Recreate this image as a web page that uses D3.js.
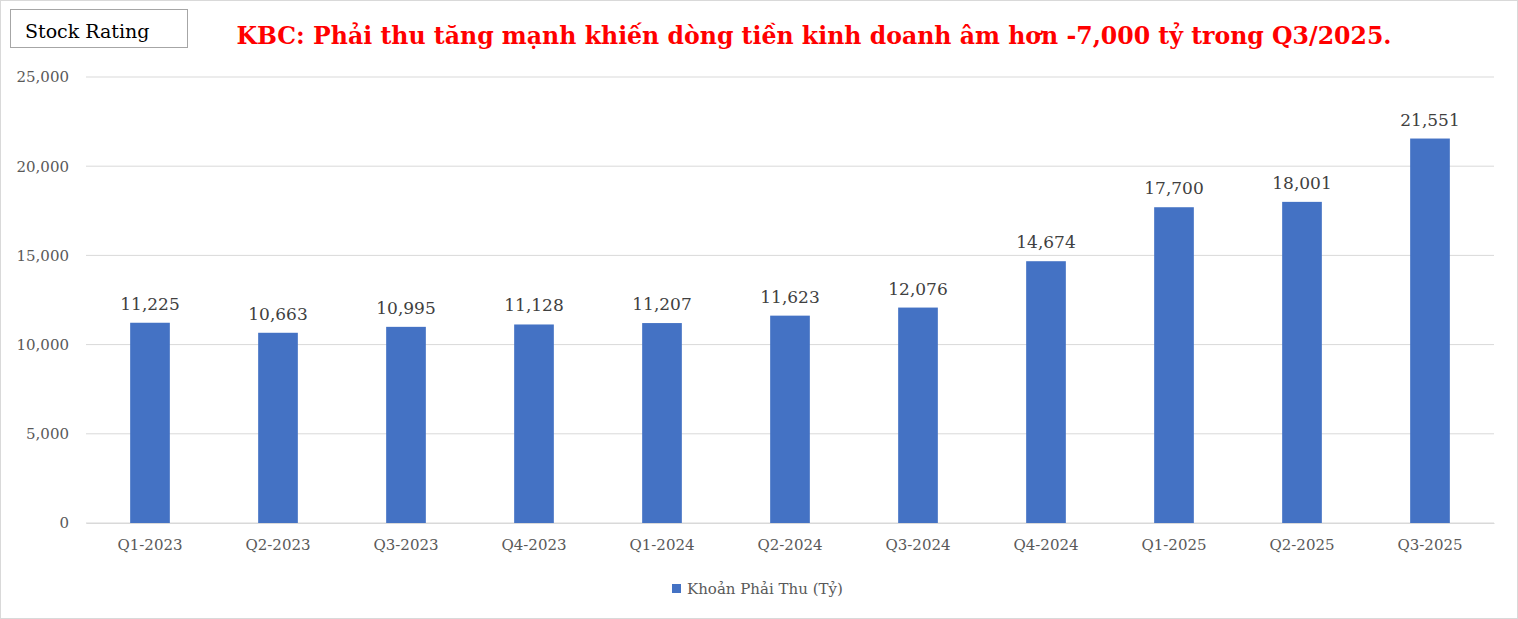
<!DOCTYPE html>
<html><head><meta charset="utf-8">
<script src="https://cdn.jsdelivr.net/npm/d3@7"></script>
<style>body{margin:0;background:#fff}svg{display:block}</style>
</head><body>
<script>
var quarters = ['Q1-2023','Q2-2023','Q3-2023','Q4-2023','Q1-2024','Q2-2024','Q3-2024','Q4-2024','Q1-2025','Q2-2025','Q3-2025'];
var receivables = [11225,10663,10995,11128,11207,11623,12076,14674,17700,18001,21551];
var yTicks = [0,5000,10000,15000,20000,25000];

var width = 1518, height = 619,
    margin = {top: 77, right: 24, bottom: 96, left: 86},
    font = '"DejaVu Serif", "Liberation Serif", serif';

var svg = d3.select('body').append('svg').attr('width', width).attr('height', height);
svg.append('rect').attr('x',0.5).attr('y',0.5).attr('width',width-1).attr('height',height-1)
    .attr('fill','#fff').attr('stroke','#d9d9d9');

var x = d3.scaleBand().domain(quarters).range([margin.left, width - margin.right]).paddingInner(0.69).paddingOuter(0.345);
var y = d3.scaleLinear().domain([0,25000]).range([height - margin.bottom, margin.top]);
var fmt = d3.format(',');

// gridlines
svg.append('g').selectAll('line').data(yTicks).enter().append('line')
    .attr('x1', margin.left).attr('x2', width - margin.right)
    .attr('y1', function(d){ return y(d); }).attr('y2', function(d){ return y(d); })
    .attr('stroke','#d9d9d9').attr('stroke-width',1);

var yAxis = svg.append('g').attr('transform','translate(' + (margin.left - 14) + ',0)')
    .call(d3.axisLeft(y).tickValues(yTicks).tickFormat(fmt).tickSize(0));
yAxis.select('.domain').remove();
yAxis.selectAll('text').attr('fill','#595959').style('font-family',font).style('font-size','15px');

var xAxis = svg.append('g').attr('transform','translate(0,' + (height - margin.bottom) + ')')
    .call(d3.axisBottom(x).tickSize(0).tickPadding(16));
xAxis.select('.domain').attr('stroke','#d9d9d9');
xAxis.selectAll('text').attr('fill','#595959').style('font-family',font).style('font-size','15px');

svg.append('g').selectAll('rect').data(receivables).enter().append('rect')
    .attr('x', function(d,i){ return x(quarters[i]); })
    .attr('y', function(d){ return y(d); })
    .attr('width', x.bandwidth())
    .attr('height', function(d){ return y(0) - y(d); })
    .attr('fill','#4472c4');

svg.append('g').selectAll('text').data(receivables).enter().append('text')
    .attr('x', function(d,i){ return x(quarters[i]) + x.bandwidth()/2; })
    .attr('y', function(d){ return y(d) - 13; })
    .attr('text-anchor','middle').attr('fill','#404040')
    .style('font-family',font).style('font-size','17px')
    .text(function(d){ return fmt(d); });

// legend
svg.append('rect').attr('x',672).attr('y',584).attr('width',9).attr('height',9).attr('fill','#4472c4');
svg.append('text').attr('x',687).attr('y',594).attr('fill','#595959')
    .style('font-family',font).style('font-size','15px').text('Khoản Phải Thu (Tỷ)');

// title box
svg.append('rect').attr('x',10.5).attr('y',9.5).attr('width',177).attr('height',38)
    .attr('fill','#fff').attr('stroke','#a6a6a6');
svg.append('text').attr('x',25).attr('y',38).attr('fill','#000')
    .style('font-family',font).style('font-size','19px').text('Stock Rating');

svg.append('text').attr('x',814).attr('y',44).attr('text-anchor','middle').attr('fill','#ff0000')
    .style('font-family',font).style('font-size','23.6px').style('font-weight','bold')
    .text('KBC: Phải thu tăng mạnh khiến dòng tiền kinh doanh âm hơn -7,000 tỷ trong Q3/2025.');
</script>
</body></html>
